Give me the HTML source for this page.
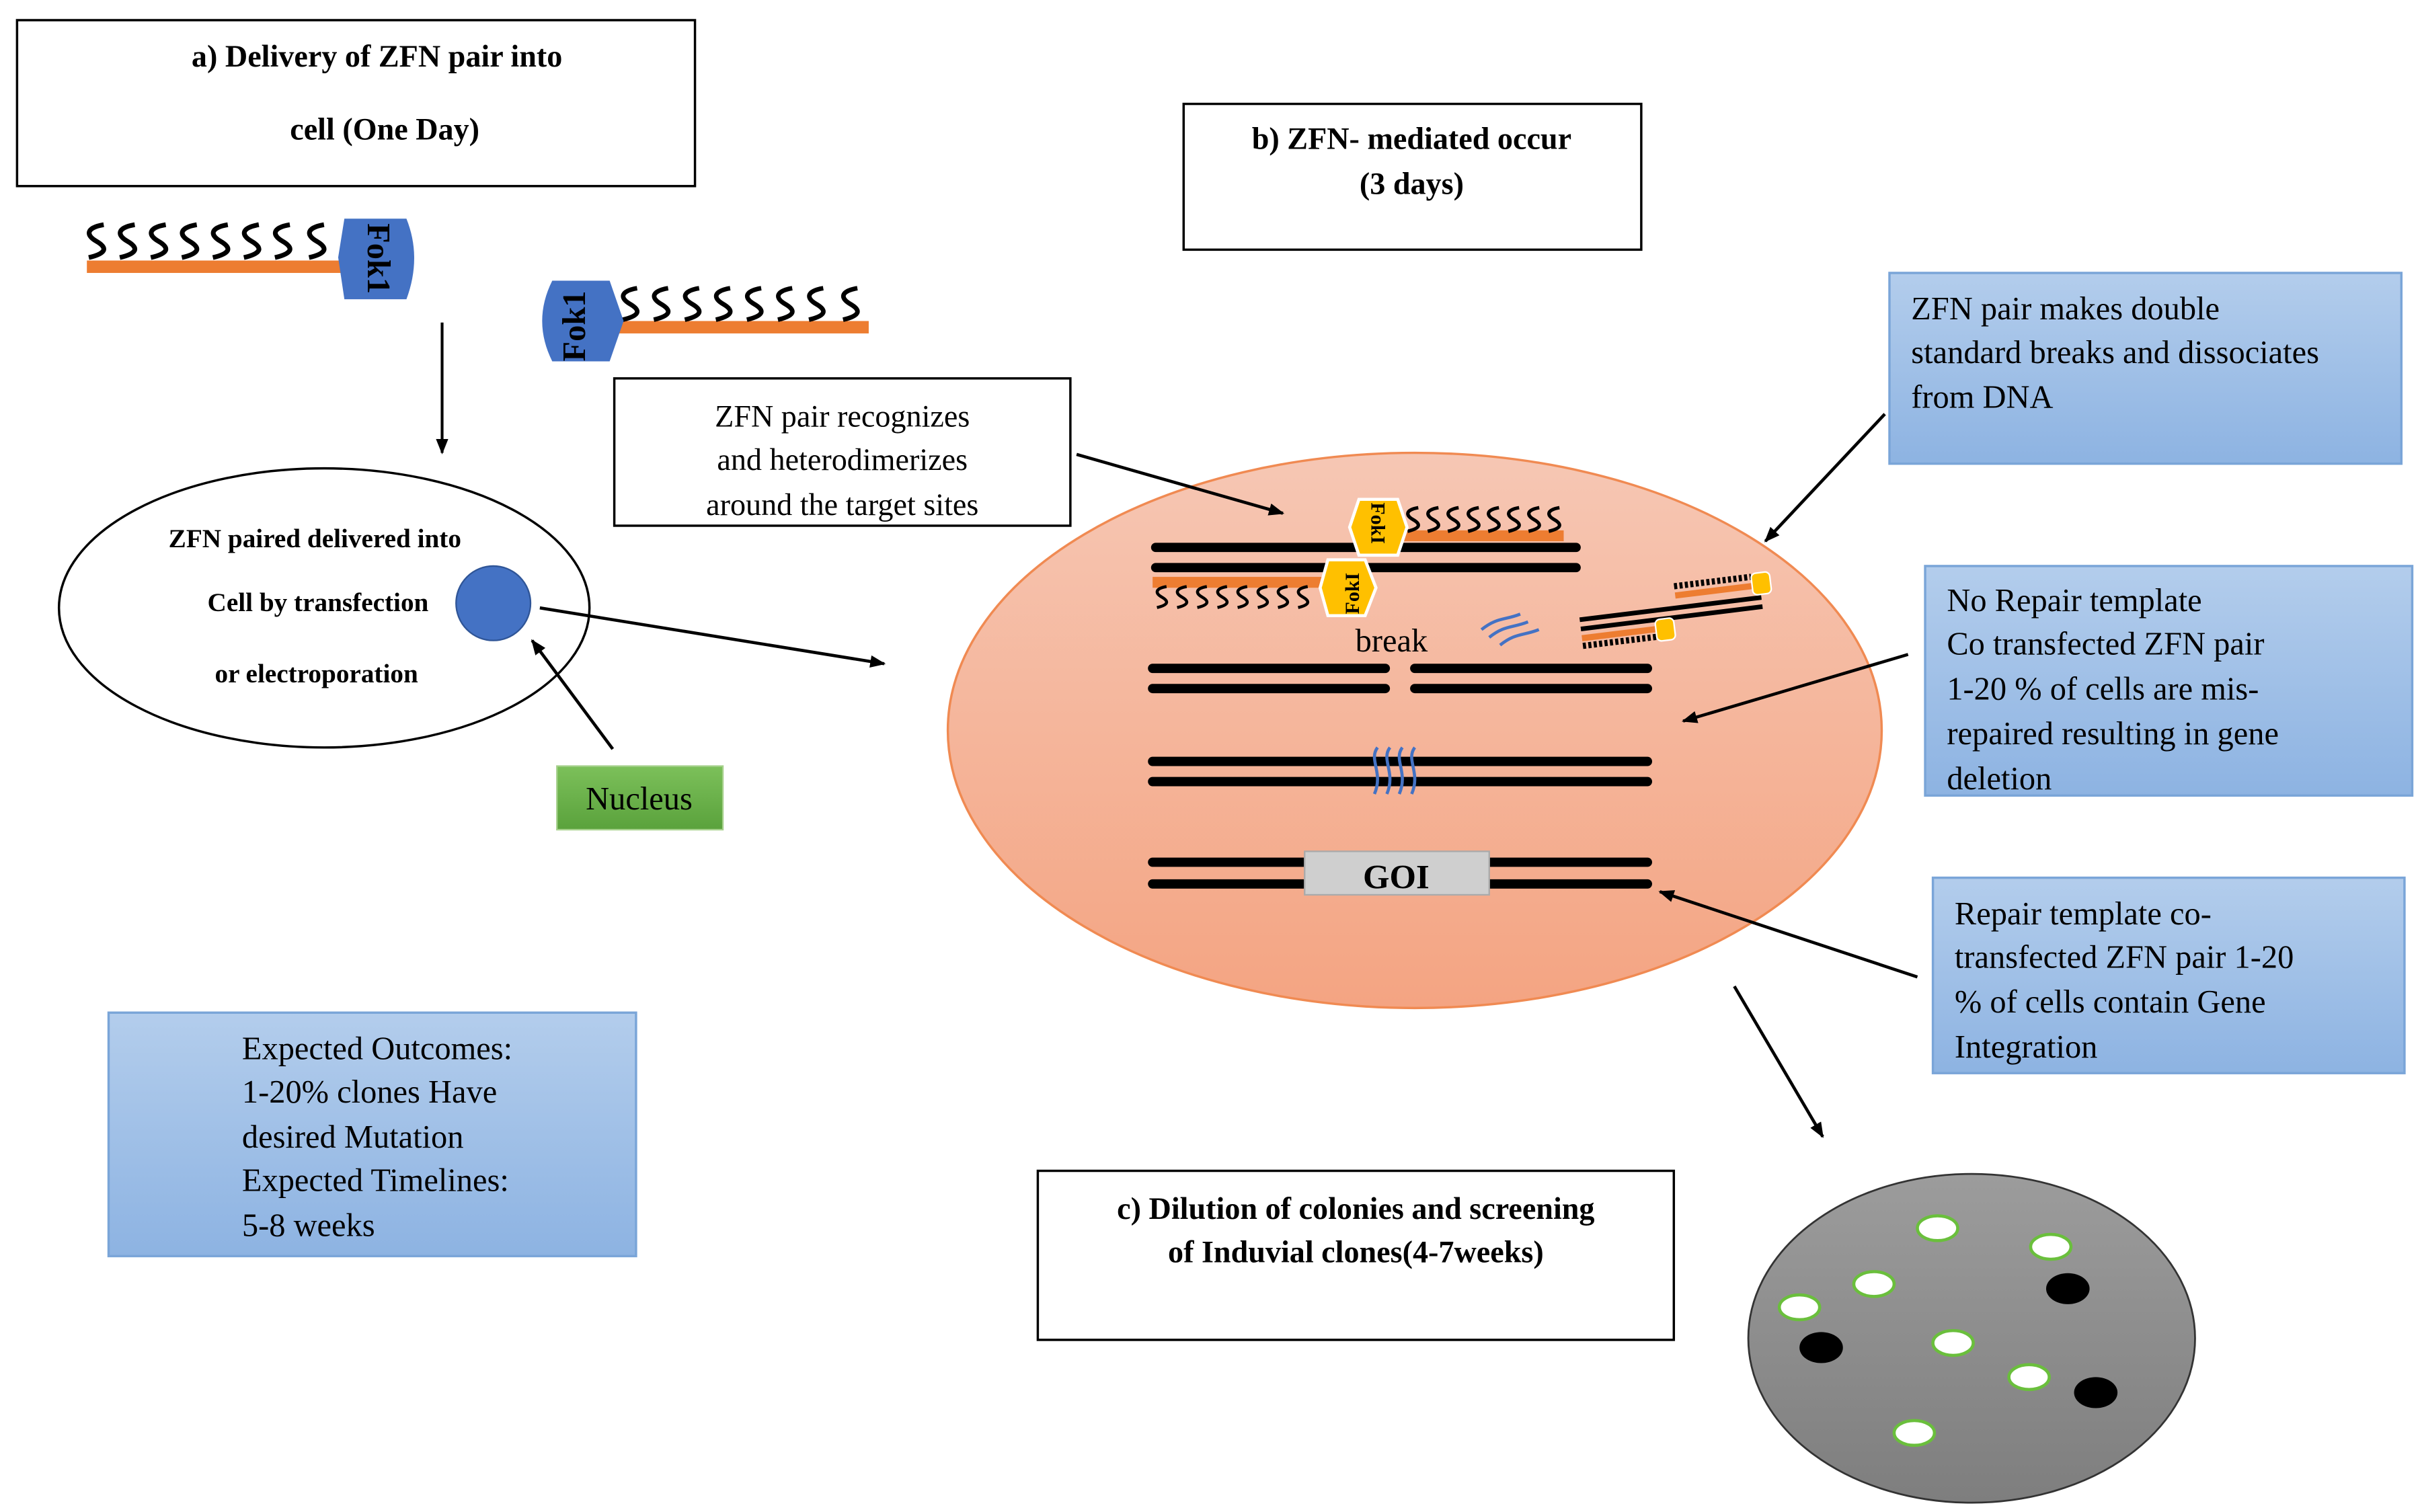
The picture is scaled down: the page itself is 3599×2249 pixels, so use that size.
<!DOCTYPE html>
<html><head><meta charset="utf-8"><style>
html,body{margin:0;padding:0;background:#fff;}
svg{display:block;}
svg text{font-family:"Liberation Serif","DejaVu Serif",serif;}
</style></head><body>
<svg width="3599" height="2249" viewBox="0 0 1560 975" preserveAspectRatio="none" xmlns="http://www.w3.org/2000/svg" font-family="'Liberation Serif', 'DejaVu Serif', serif">
<defs>
<marker id="ah" markerWidth="10" markerHeight="8" refX="9" refY="4" orient="auto" markerUnits="userSpaceOnUse">
<path d="M0,0 L10,4 L0,8 Z" fill="#000"/></marker>
<linearGradient id="cell" x1="0" y1="0" x2="0" y2="1"><stop offset="0" stop-color="#f6c7b4"/><stop offset="1" stop-color="#f4a482"/></linearGradient>
<linearGradient id="blu" x1="0" y1="0" x2="0" y2="1"><stop offset="0" stop-color="#b3cdec"/><stop offset="1" stop-color="#8db3e2"/></linearGradient>
<linearGradient id="dish" x1="0" y1="0" x2="0" y2="1"><stop offset="0" stop-color="#9c9c9c"/><stop offset="1" stop-color="#7e7e7e"/></linearGradient>
<linearGradient id="grn" x1="0" y1="0" x2="0" y2="1"><stop offset="0" stop-color="#7cc05a"/><stop offset="1" stop-color="#5aa23c"/></linearGradient>
<symbol id="sq" viewBox="0 0 20 26" overflow="visible"><path d="M14,2 C2,4 2,9 9,13 C16,17 17,21 4,24" fill="none" stroke="#000" stroke-width="3.2"/></symbol>
<symbol id="wv" viewBox="0 0 50 24" overflow="visible"><g fill="none" stroke="#4472c4" stroke-width="2"><path d="M0,12 C10,4 15,6 25,2"/><path d="M5,17 C15,9 20,11 30,7"/><path d="M12,22 C22,14 27,16 37,12"/></g></symbol>
</defs>

<rect x="11" y="13" width="437" height="107" fill="#fff" stroke="#000" stroke-width="1.5"/>
<text x="243" y="43" font-size="20" font-weight="bold" text-anchor="middle">a) Delivery of ZFN pair into</text>
<text x="248" y="90" font-size="20" font-weight="bold" text-anchor="middle">cell (One Day)</text>

<rect x="56" y="168" width="166" height="8" fill="#ed7d31"/>
<g>
<use href="#sq" x="52" y="143" width="22" height="25"/><use href="#sq" x="72" y="143" width="22" height="25"/><use href="#sq" x="92" y="143" width="22" height="25"/><use href="#sq" x="112" y="143" width="22" height="25"/><use href="#sq" x="132" y="143" width="22" height="25"/><use href="#sq" x="152" y="143" width="22" height="25"/><use href="#sq" x="172" y="143" width="22" height="25"/><use href="#sq" x="194" y="143" width="22" height="25"/>
</g>
<path d="M222,141 L262,141 Q272,166 262,193 L222,193 L218,166 Z" fill="#4472c4"/>
<text x="0" y="0" font-size="21" font-weight="bold" transform="translate(237,144) rotate(90)">Fok1</text>

<rect x="398" y="207" width="162" height="8" fill="#ed7d31"/>
<g>
<use href="#sq" x="396" y="184" width="22" height="24"/><use href="#sq" x="416" y="184" width="22" height="24"/><use href="#sq" x="436" y="184" width="22" height="24"/><use href="#sq" x="456" y="184" width="22" height="24"/><use href="#sq" x="476" y="184" width="22" height="24"/><use href="#sq" x="496" y="184" width="22" height="24"/><use href="#sq" x="516" y="184" width="22" height="24"/><use href="#sq" x="538" y="184" width="22" height="24"/>
</g>
<path d="M356,181 L393,181 L402,207 L393,233 L356,233 Q343,207 356,181 Z" fill="#4472c4"/>
<text x="0" y="0" font-size="21" font-weight="bold" transform="translate(377,233) rotate(-90)">Fok1</text>

<line x1="285" y1="208" x2="285" y2="292" stroke="#000" stroke-width="1.8" marker-end="url(#ah)"/>

<ellipse cx="209" cy="392" rx="171" ry="90" fill="#fff" stroke="#000" stroke-width="1.5"/>
<text x="203" y="353" font-size="17" font-weight="bold" text-anchor="middle">ZFN paired delivered into</text>
<text x="205" y="394" font-size="17" font-weight="bold" text-anchor="middle">Cell by transfection</text>
<text x="204" y="440" font-size="17" font-weight="bold" text-anchor="middle">or electroporation</text>
<circle cx="318" cy="389" r="24" fill="#4472c4" stroke="#2f5597" stroke-width="1"/>
<line x1="395" y1="483" x2="343" y2="413" stroke="#000" stroke-width="2" marker-end="url(#ah)"/>
<rect x="359" y="494" width="107" height="41" fill="url(#grn)" stroke="#a6d18c"/>
<text x="412" y="522" font-size="21" text-anchor="middle">Nucleus</text>
<line x1="348" y1="392" x2="570" y2="428" stroke="#000" stroke-width="2" marker-end="url(#ah)"/>

<rect x="763" y="67" width="295" height="94" fill="#fff" stroke="#000" stroke-width="1.5"/>
<text x="910" y="96" font-size="20" font-weight="bold" text-anchor="middle">b) ZFN- mediated occur</text>
<text x="910" y="125" font-size="20" font-weight="bold" text-anchor="middle">(3 days)</text>

<rect x="396" y="244" width="294" height="95" fill="#fff" stroke="#000" stroke-width="1.5"/>
<text x="543" y="275" font-size="20" text-anchor="middle">ZFN pair recognizes</text>
<text x="543" y="303" font-size="20" text-anchor="middle">and heterodimerizes</text>
<text x="543" y="332" font-size="20" text-anchor="middle">around the target sites</text>

<ellipse cx="912" cy="471" rx="301" ry="179" fill="url(#cell)" stroke="#f08a52" stroke-width="1.5"/>
<line x1="694" y1="293" x2="827" y2="331" stroke="#000" stroke-width="2" marker-end="url(#ah)"/>
<g stroke="#000" stroke-width="6" stroke-linecap="round">
<line x1="745" y1="353" x2="1016" y2="353"/><line x1="745" y1="366" x2="1016" y2="366"/>
<line x1="743" y1="431" x2="893" y2="431"/><line x1="743" y1="444" x2="893" y2="444"/>
<line x1="912" y1="431" x2="1062" y2="431"/><line x1="912" y1="444" x2="1062" y2="444"/>
<line x1="743" y1="491" x2="1062" y2="491"/><line x1="743" y1="504" x2="1062" y2="504"/>
<line x1="743" y1="556" x2="1062" y2="556"/><line x1="743" y1="570" x2="1062" y2="570"/>
</g>
<rect x="905" y="342" width="103" height="7" fill="#ed7d31"/>
<rect x="743" y="372" width="110" height="7" fill="#ed7d31"/>
<g>
<use href="#sq" x="904" y="326" width="15" height="18"/><use href="#sq" x="917" y="326" width="15" height="18"/><use href="#sq" x="930" y="326" width="15" height="18"/><use href="#sq" x="943" y="326" width="15" height="18"/><use href="#sq" x="956" y="326" width="15" height="18"/><use href="#sq" x="969" y="326" width="15" height="18"/><use href="#sq" x="982" y="326" width="15" height="18"/><use href="#sq" x="995" y="326" width="15" height="18"/>
<use href="#sq" x="742" y="377" width="15" height="16"/><use href="#sq" x="755" y="377" width="15" height="16"/><use href="#sq" x="768" y="377" width="15" height="16"/><use href="#sq" x="781" y="377" width="15" height="16"/><use href="#sq" x="794" y="377" width="15" height="16"/><use href="#sq" x="807" y="377" width="15" height="16"/><use href="#sq" x="820" y="377" width="15" height="16"/><use href="#sq" x="833" y="377" width="15" height="16"/>
</g>
<path d="M876,322 L901,322 L907,340 L901,358 L876,358 L870,340 Z" fill="#ffc000" stroke="#fff" stroke-width="2"/>
<text font-size="13" font-weight="bold" transform="translate(884,324) rotate(90)">FokI</text>
<path d="M856,361 L880,361 L887,379 L880,397 L856,397 L851,379 Z" fill="#ffc000" stroke="#fff" stroke-width="2"/>
<text font-size="13" font-weight="bold" transform="translate(876,396) rotate(-90)">FokI</text>
<g transform="rotate(-7 1080 385)">
<line x1="1017" y1="392" x2="1135" y2="392" stroke="#000" stroke-width="3"/>
<line x1="1017" y1="398" x2="1135" y2="398" stroke="#000" stroke-width="3"/>
<rect x="1080" y="382" width="50" height="4" fill="#ed7d31"/>
<line x1="1080" y1="378" x2="1130" y2="378" stroke="#000" stroke-width="4" stroke-dasharray="2 1.5"/>
<rect x="1130" y="376" width="12" height="14" rx="3" fill="#ffc000" stroke="#fff"/>
<rect x="1017" y="402" width="48" height="4" fill="#ed7d31"/>
<line x1="1017" y1="409" x2="1065" y2="409" stroke="#000" stroke-width="4" stroke-dasharray="2 1.5"/>
<rect x="1065" y="398" width="12" height="14" rx="3" fill="#ffc000" stroke="#fff"/>
</g>
<text x="897" y="420" font-size="21" text-anchor="middle">break</text>
<use href="#wv" x="955" y="394" width="50" height="24"/>
<g fill="none" stroke="#4472c4" stroke-width="2">
<path d="M888,482 C882,490 892,498 886,512"/><path d="M896,482 C890,490 900,498 894,512"/><path d="M904,482 C898,490 908,498 902,512"/><path d="M912,482 C906,490 916,498 910,512"/>
</g>
<rect x="841" y="549" width="119" height="28" fill="#cfcfcf" stroke="#aaa"/>
<text x="900" y="573" font-size="22" font-weight="bold" text-anchor="middle">GOI</text>

<rect x="1218" y="176" width="330" height="123" fill="url(#blu)" stroke="#7aa5d8" stroke-width="1.5"/>
<text font-size="21"><tspan x="1232" y="206">ZFN pair makes double</tspan><tspan x="1232" y="234">standard breaks and dissociates</tspan><tspan x="1232" y="263">from DNA</tspan></text>
<rect x="1241" y="365" width="314" height="148" fill="url(#blu)" stroke="#7aa5d8" stroke-width="1.5"/>
<text font-size="21"><tspan x="1255" y="394">No Repair template</tspan><tspan x="1255" y="422">Co transfected ZFN pair</tspan><tspan x="1255" y="451">1-20 % of cells are mis-</tspan><tspan x="1255" y="480">repaired resulting in gene</tspan><tspan x="1255" y="509">deletion</tspan></text>
<rect x="1246" y="566" width="304" height="126" fill="url(#blu)" stroke="#7aa5d8" stroke-width="1.5"/>
<text font-size="21"><tspan x="1260" y="596">Repair template co-</tspan><tspan x="1260" y="624">transfected ZFN pair 1-20</tspan><tspan x="1260" y="653">% of cells contain Gene</tspan><tspan x="1260" y="682">Integration</tspan></text>
<rect x="70" y="653" width="340" height="157" fill="url(#blu)" stroke="#7aa5d8" stroke-width="1.5"/>
<text font-size="21"><tspan x="156" y="683">Expected Outcomes:</tspan><tspan x="156" y="711">1-20% clones Have</tspan><tspan x="156" y="740">desired Mutation</tspan><tspan x="156" y="768">Expected Timelines:</tspan><tspan x="156" y="797">5-8 weeks</tspan></text>

<g stroke="#000" stroke-width="2">
<line x1="1215" y1="267" x2="1138" y2="349" marker-end="url(#ah)"/>
<line x1="1230" y1="422" x2="1085" y2="465" marker-end="url(#ah)"/>
<line x1="1236" y1="630" x2="1070" y2="575" marker-end="url(#ah)"/>
<line x1="1118" y1="636" x2="1175" y2="733" marker-end="url(#ah)"/>
</g>

<rect x="669" y="755" width="410" height="109" fill="#fff" stroke="#000" stroke-width="1.5"/>
<text x="874" y="786" font-size="20" font-weight="bold" text-anchor="middle">c) Dilution of colonies and screening</text>
<text x="874" y="814" font-size="20" font-weight="bold" text-anchor="middle">of Induvial clones(4-7weeks)</text>

<ellipse cx="1271" cy="863" rx="144" ry="106" fill="url(#dish)" stroke="#333" stroke-width="1.2"/>
<g fill="#fff" stroke="#6abf3c" stroke-width="2">
<ellipse cx="1249" cy="792" rx="13" ry="8"/><ellipse cx="1322" cy="804" rx="13" ry="8"/><ellipse cx="1208" cy="828" rx="13" ry="8"/><ellipse cx="1160" cy="843" rx="13" ry="8"/><ellipse cx="1259" cy="866" rx="13" ry="8"/><ellipse cx="1308" cy="888" rx="13" ry="8"/><ellipse cx="1234" cy="924" rx="13" ry="8"/>
</g>
<g fill="#000">
<ellipse cx="1333" cy="831" rx="14" ry="10"/><ellipse cx="1174" cy="869" rx="14" ry="10"/><ellipse cx="1351" cy="898" rx="14" ry="10"/>
</g>
</svg>
</body></html>
